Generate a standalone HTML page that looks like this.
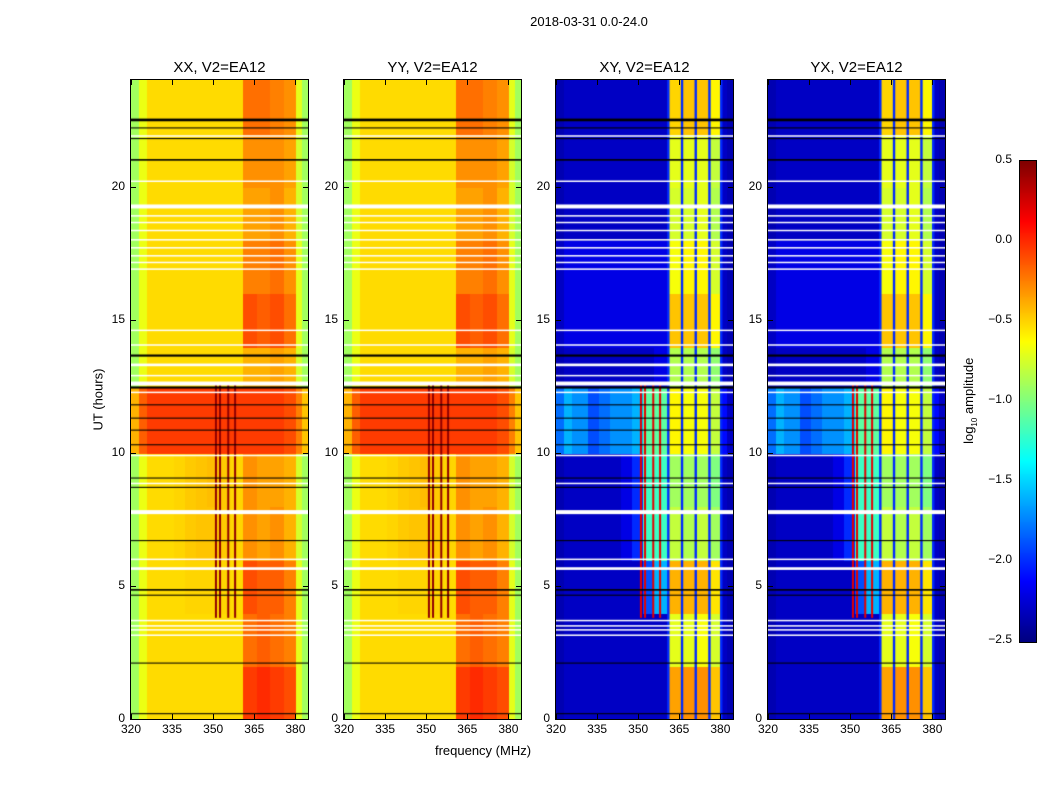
<!DOCTYPE html>
<html><head><meta charset="utf-8"><style>
body{margin:0;background:#fff;width:1050px;height:800px;position:relative;overflow:hidden;font-family:"Liberation Sans","DejaVu Sans",sans-serif;color:#000}
.t{position:absolute;white-space:nowrap}
canvas{position:absolute}
</style></head><body>
<div class="t" style="left:489px;top:14px;width:200px;text-align:center;font-size:13px">2018-03-31 0.0-24.0</div>
<div class="t" style="left:383px;top:743px;width:200px;text-align:center;font-size:13px">frequency (MHz)</div>
<div class="t" style="left:48px;top:392px;width:100px;text-align:center;font-size:13px;transform:rotate(-90deg)">UT (hours)</div>
<div class="t" style="left:910px;top:392px;width:120px;text-align:center;font-size:13px;transform:rotate(-90deg)">log<sub style="font-size:8px">10</sub> amplitude</div>
<canvas id="cb" width="16" height="481" style="left:1019px;top:160px;border:1px solid #000;box-sizing:border-box"></canvas>
<div id="root"></div>
<script>
// ---- data ----
const panelTitles = ["XX, V2=EA12","YY, V2=EA12","XY, V2=EA12","YX, V2=EA12"];
const panelKinds = ["par","par","cross","cross"];
const freqEdges = [320,323,326,332,336,340,344,348,352,356,361,366,371,376,380.3,382.5,384.6];
const hourEdges = [0,2,4,6,8,10,12.5,14,16,18,20,22,24];
const xTicks = [320,335,350,365,380];
const yTicks = [0,5,10,15,20];
const cbTicks = [0.5,0.0,-0.5,-1.0,-1.5,-2.0,-2.5];
const parGrid = [
 [-0.9,-0.68,-0.52,-0.52,-0.52,-0.52,-0.52,-0.52,-0.52,-0.52,-0.05,0.0,-0.05,-0.1,-0.7,-0.9],
 [-0.9,-0.68,-0.52,-0.52,-0.52,-0.52,-0.52,-0.52,-0.52,-0.52,-0.2,-0.15,-0.2,-0.25,-0.7,-0.9],
 [-0.9,-0.68,-0.52,-0.52,-0.52,-0.5,-0.5,-0.5,-0.5,-0.52,-0.1,-0.15,-0.15,-0.25,-0.7,-0.9],
 [-0.9,-0.68,-0.52,-0.52,-0.5,-0.47,-0.45,-0.45,-0.47,-0.5,-0.3,-0.35,-0.3,-0.4,-0.75,-0.9],
 [-0.9,-0.68,-0.52,-0.52,-0.5,-0.47,-0.45,-0.43,-0.47,-0.5,-0.3,-0.35,-0.35,-0.4,-0.75,-0.9],
 [-0.4,-0.15,-0.05,-0.05,-0.05,-0.05,-0.05,-0.05,-0.05,-0.05,-0.05,-0.05,-0.05,-0.1,-0.25,-0.45],
 [-0.9,-0.68,-0.52,-0.52,-0.52,-0.52,-0.52,-0.52,-0.52,-0.52,-0.4,-0.4,-0.35,-0.4,-0.75,-0.9],
 [-0.9,-0.68,-0.52,-0.52,-0.52,-0.52,-0.52,-0.52,-0.52,-0.52,-0.1,-0.15,-0.1,-0.2,-0.7,-0.9],
 [-0.9,-0.68,-0.52,-0.52,-0.52,-0.52,-0.52,-0.52,-0.52,-0.52,-0.25,-0.25,-0.2,-0.3,-0.7,-0.9],
 [-0.9,-0.68,-0.52,-0.52,-0.52,-0.52,-0.52,-0.52,-0.52,-0.52,-0.35,-0.35,-0.3,-0.4,-0.75,-0.9],
 [-0.9,-0.68,-0.52,-0.52,-0.52,-0.52,-0.52,-0.52,-0.52,-0.52,-0.3,-0.3,-0.3,-0.35,-0.75,-0.9],
 [-0.9,-0.68,-0.52,-0.52,-0.52,-0.52,-0.52,-0.52,-0.52,-0.52,-0.2,-0.2,-0.25,-0.3,-0.7,-0.9]
];
const crossGrid = [
 [-2.35,-2.3,-2.3,-2.3,-2.3,-2.3,-2.3,-2.3,-2.3,-2.3,-0.35,-0.3,-0.3,-0.45,-2.3,-2.35],
 [-2.35,-2.3,-2.3,-2.3,-2.3,-2.3,-2.3,-2.3,-2.3,-2.3,-0.7,-0.7,-0.65,-0.75,-2.3,-2.35],
 [-2.35,-2.3,-2.3,-2.3,-2.3,-2.3,-2.3,-2.3,-1.9,-1.6,-0.4,-0.4,-0.4,-0.55,-2.3,-2.35],
 [-2.35,-2.3,-2.3,-2.3,-2.3,-2.3,-2.2,-2.0,-1.2,-1.2,-0.8,-0.85,-0.8,-0.9,-2.3,-2.35],
 [-2.35,-2.3,-2.3,-2.3,-2.3,-2.3,-2.2,-2.0,-1.2,-1.2,-0.9,-0.9,-0.9,-1.0,-2.3,-2.35],
 [-1.8,-1.6,-1.7,-1.9,-1.8,-1.7,-1.7,-1.6,-1.1,-1.1,-0.6,-0.65,-0.65,-0.8,-2.1,-2.3],
 [-2.35,-2.3,-2.3,-2.3,-2.3,-2.3,-2.3,-2.3,-2.3,-2.2,-0.85,-0.85,-0.85,-0.95,-2.3,-2.35],
 [-2.3,-2.2,-2.2,-2.2,-2.2,-2.2,-2.2,-2.2,-2.2,-2.2,-0.45,-0.45,-0.45,-0.6,-2.3,-2.35],
 [-2.3,-2.2,-2.2,-2.2,-2.2,-2.2,-2.2,-2.2,-2.2,-2.2,-0.65,-0.6,-0.6,-0.75,-2.3,-2.35],
 [-2.35,-2.3,-2.3,-2.3,-2.3,-2.3,-2.3,-2.3,-2.3,-2.3,-0.75,-0.75,-0.7,-0.85,-2.3,-2.35],
 [-2.35,-2.3,-2.3,-2.3,-2.3,-2.3,-2.3,-2.3,-2.3,-2.3,-0.7,-0.7,-0.7,-0.8,-2.3,-2.35],
 [-2.35,-2.3,-2.3,-2.3,-2.3,-2.3,-2.3,-2.3,-2.3,-2.3,-0.5,-0.45,-0.45,-0.6,-2.3,-2.35]
];
const gapFreqs = [361,366,371,376,380.3];
const gapValue = -2.0;
const rfiFreqs = [351,352.5,355.5,358];
const rfiStart = 3.8, rfiEnd = 12.6;
const rfiParValue = 0.45, rfiCrossValue = 0.2;
const whiteHours = [21.9,20.2,19.25,18.9,18.65,18.35,18.0,17.7,17.4,17.15,16.9,14.6,14.05,13.3,12.9,12.6,12.27,9.9,8.85,7.77,6.0,5.65,3.7,3.5,3.35,3.15];
const whiteWidths = [0.05,0.05,0.15,0.05,0.05,0.05,0.05,0.05,0.05,0.05,0.05,0.05,0.05,0.1,0.05,0.15,0.05,0.05,0.05,0.15,0.05,0.1,0.05,0.05,0.05,0.05];
const blackHours = [22.5,22.2,21.8,21.0,13.65,12.45,11.8,11.3,10.85,10.3,9.05,8.7,6.7,4.85,4.65,2.1,0.2];
const blackWidths = [0.1,0.04,0.04,0.06,0.08,0.08,0.04,0.04,0.04,0.04,0.04,0.04,0.04,0.06,0.04,0.04,0.04];

// ---- layout ----
const panelLefts = [131,344,556,768];
const PW = 177, PT = 80, PH = 639;
const fx = f => (f - 320) * PW / 64.6;
const hy = h => PH - h * PH / 24;

function jet(v){
  let t = Math.max(0, Math.min(1, (v + 2.5) / 3));
  const c = x => Math.round(255 * Math.max(0, Math.min(1, 1.5 - Math.abs(x))));
  return `rgb(${c(4*t-3)},${c(4*t-2)},${c(4*t-1)})`;
}
const root = document.getElementById('root');
function txt(s, l, t, w, align, name, size){
  const d = document.createElement('div');
  d.className = 't';
  d.textContent = s;
  d.style.cssText = `left:${l}px;top:${t}px;width:${w}px;text-align:${align};font-size:${size||12}px`;
  
  
  root.appendChild(d);
  return d;
}
panelTitles.forEach((title, p) => {
  const L = panelLefts[p];
  const cross = panelKinds[p] === 'cross';
  const grid = cross ? crossGrid : parGrid;
  const cv = document.createElement('canvas');
  cv.width = PW; cv.height = PH;
  cv.style.left = L + 'px'; cv.style.top = PT + 'px';
  
  
  root.appendChild(cv);
  const g = cv.getContext('2d');
  for (let r = 0; r < hourEdges.length - 1; r++) {
    for (let c = 0; c < freqEdges.length - 1; c++) {
      const x0 = fx(freqEdges[c]), x1 = fx(freqEdges[c+1]);
      const y0 = hy(hourEdges[r+1]), y1 = hy(hourEdges[r]);
      g.fillStyle = jet(grid[r][c]);
      g.fillRect(Math.floor(x0), Math.floor(y0), Math.ceil(x1 - x0) + 1, Math.ceil(y1 - y0) + 1);
    }
  }
  if (cross) {
    gapFreqs.forEach(f => { g.fillStyle = jet(gapValue); g.fillRect(fx(f) - 1.2, 0, 2.4, PH); });
  }
  rfiFreqs.forEach(f => {
    g.fillStyle = jet(cross ? rfiCrossValue : rfiParValue);
    g.fillRect(fx(f) - 1, hy(rfiEnd), 2, hy(rfiStart) - hy(rfiEnd));
  });
  whiteHours.forEach((h, i) => { g.fillStyle = '#fff'; const w = whiteWidths[i] * PH / 24; g.fillRect(0, hy(h) - w/2, PW, Math.max(1.5, w)); });
  blackHours.forEach((h, i) => { g.fillStyle = '#000'; const w = blackWidths[i] * PH / 24; g.fillRect(0, hy(h) - w/2, PW, Math.max(1, w)); });
  const fr = document.createElement('div');
  fr.style.cssText = `position:absolute;left:${L-1}px;top:${PT-1}px;width:${PW}px;height:${PH}px;border:1px solid #000`;
  
  
  root.appendChild(fr);
  txt(title, L - 20, 59, PW + 40, 'center', 'panel-title-' + p, 15);
  xTicks.forEach(v => {
    const x = L + fx(v);
    txt(String(v), x - 20, 722, 40, 'center', 'x-tick-label', 12);
    ['top','bottom'].forEach(side => {
      const tk = document.createElement('div');
      tk.style.cssText = `position:absolute;left:${x}px;top:${side==='top'?PT:PT+PH-5}px;width:1px;height:5px;background:#000`;
      
      
      root.appendChild(tk);
    });
  });
  yTicks.forEach(v => {
    const y = PT + hy(v);
    txt(String(v), L - 34, y - 8, 28, 'right', 'y-tick-label', 12);
    [L, L + PW - 5].forEach(xx => {
      const tk = document.createElement('div');
      tk.style.cssText = `position:absolute;left:${xx}px;top:${y}px;width:5px;height:1px;background:#000`;
      
      
      root.appendChild(tk);
    });
  });
});
const cb = document.getElementById('cb').getContext('2d');
for (let i = 0; i < 481; i++) { cb.fillStyle = jet(0.5 - 3 * i / 480); cb.fillRect(0, i, 16, 1); }
cbTicks.forEach(v => {
  const y = 160 + (0.5 - v) / 3 * 480;
  txt(v.toFixed(1).replace('-', '\u2212'), 962, y - 8, 50, 'right', 'colorbar-tick-label', 12);
});
</script>
</body></html>
